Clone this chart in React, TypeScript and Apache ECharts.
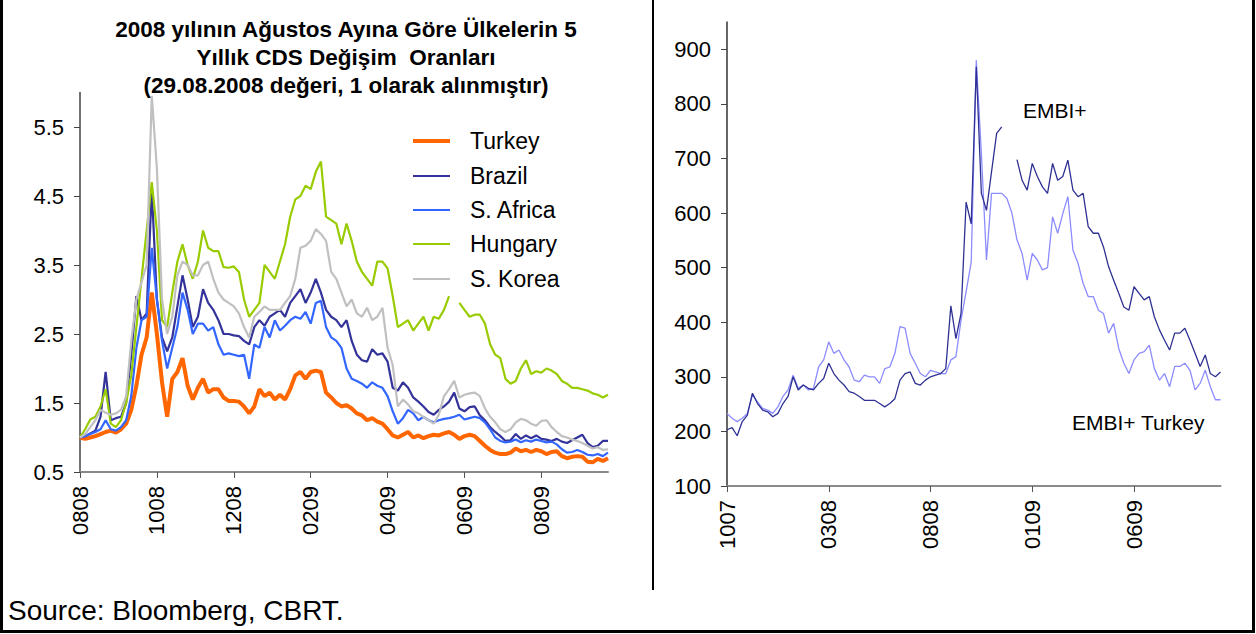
import { useEffect, useRef } from "react";
import * as echarts from "echarts";

// ---------- Left chart: 5-year CDS change ratios (29.08.2008 = 1) ----------
const LEFT_TICK_LABELS = ["0808", "1008", "1208", "0209", "0409", "0609", "0809"];
const LEFT_TICK_EVERY = 15;
const LEFT_Y_TICKS = [0.5, 1.5, 2.5, 3.5, 4.5, 5.5];
const SERIES_NAMES = ["Turkey", "Brazil", "S. Africa", "Hungary", "S. Korea"];

const TURKEY = [
  1.0, 0.98, 1.0, 1.02, 1.05, 1.08, 1.1, 1.07, 1.12, 1.2,
  1.4, 1.75, 2.2, 2.45, 3.1, 2.5, 1.8, 1.3, 1.85, 1.95,
  2.15, 1.75, 1.55, 1.72, 1.85, 1.65, 1.7, 1.7, 1.58, 1.53,
  1.53, 1.52, 1.45, 1.35, 1.45, 1.7, 1.6, 1.65, 1.55, 1.62,
  1.55, 1.7, 1.9, 1.95, 1.85, 1.95, 1.97, 1.95, 1.65, 1.58,
  1.5, 1.45, 1.47, 1.42, 1.35, 1.32, 1.25, 1.28, 1.23, 1.2,
  1.12, 1.03, 1.0, 1.04, 1.08, 1.0, 1.03, 0.99, 1.02, 1.04,
  1.03, 1.06, 1.08, 1.04, 0.98, 1.02, 1.04, 1.02, 0.95, 0.88,
  0.82, 0.78, 0.76, 0.76, 0.78, 0.84, 0.8, 0.82, 0.79, 0.82,
  0.8, 0.76, 0.79, 0.8, 0.73, 0.7, 0.72, 0.73, 0.72, 0.65,
  0.64, 0.69, 0.66, 0.7,
];
const BRAZIL = [
  1.0, 1.02, 1.06, 1.1, 1.3, 1.95, 1.25, 1.28, 1.3, 1.5,
  2.2, 3.05, 2.7, 2.8, 4.6, 3.0, 2.45, 2.25, 2.45, 2.9,
  3.35, 3.0, 2.6, 2.75, 3.15, 2.95, 2.85, 2.7, 2.5, 2.5,
  2.48, 2.47, 2.4, 2.35, 2.6, 2.7, 2.62, 2.75, 2.8, 2.85,
  2.75, 2.95, 3.05, 3.15, 2.95, 3.1, 3.3, 3.1, 2.85, 2.75,
  2.7, 2.6, 2.7, 2.4, 2.2, 2.12, 2.1, 2.28, 2.2, 2.22,
  2.1, 1.72, 1.68, 1.8, 1.72, 1.58, 1.52, 1.45, 1.37, 1.33,
  1.4, 1.45, 1.52, 1.65, 1.42, 1.38, 1.44, 1.45, 1.32, 1.25,
  1.15, 1.08, 1.02, 0.95, 0.96, 1.05, 0.98, 1.03, 0.99, 1.03,
  0.98, 0.97, 0.95, 0.98, 0.94, 0.92, 0.96, 1.0, 1.04, 0.92,
  0.86, 0.88, 0.95, 0.95,
];
const S_AFRICA = [
  1.0, 1.02, 1.05, 1.08, 1.12, 1.25, 1.12, 1.1, 1.15, 1.25,
  1.6, 2.3, 2.7, 2.75, 3.75, 3.0, 2.4, 2.0, 2.3, 2.6,
  3.1, 2.85, 2.5, 2.65, 2.65, 2.55, 2.6, 2.35, 2.2, 2.22,
  2.2, 2.18, 2.2, 1.85, 2.35, 2.3, 2.6, 2.45, 2.7, 2.55,
  2.62, 2.7, 2.75, 2.72, 2.82, 2.65, 2.95, 2.98, 2.6, 2.45,
  2.4, 2.3, 2.0, 1.85, 1.82, 1.78, 1.72, 1.8, 1.75, 1.72,
  1.6, 1.38, 1.2, 1.28, 1.4, 1.35, 1.25, 1.3, 1.25, 1.22,
  1.25, 1.27, 1.28, 1.3, 1.33, 1.26, 1.28, 1.3, 1.28, 1.22,
  1.12, 1.0, 0.95, 0.93, 0.94, 0.97, 0.93, 0.96, 0.94, 0.97,
  0.95, 0.93, 0.94, 0.9, 0.83, 0.78, 0.79, 0.82, 0.79, 0.75,
  0.74, 0.76, 0.73, 0.78,
];
const HUNGARY = [
  1.0, 1.12, 1.26, 1.3, 1.45, 1.7, 1.2, 1.15, 1.25, 1.5,
  1.9, 2.6, 3.3, 4.0, 4.7, 4.0, 2.7, 2.6, 3.1, 3.55,
  3.8, 3.5, 3.3, 3.55, 4.0, 3.75, 3.7, 3.7, 3.47, 3.46,
  3.48, 3.4, 3.0, 2.75, 2.85, 2.95, 3.5, 3.4, 3.3, 3.55,
  3.8, 4.2, 4.45, 4.5, 4.65, 4.6, 4.85, 5.0, 4.2, 4.15,
  4.1, 3.8, 4.1, 3.85, 3.55, 3.4, 3.3, 3.2, 3.55, 3.55,
  3.45, 3.05, 2.6, 2.65, 2.7, 2.55, 2.65, 2.75, 2.55, 2.75,
  2.72, 2.85, 3.05, null, 2.95, 2.85, 2.75, 2.78, 2.78, 2.65,
  2.35, 2.2, 2.15, 1.85, 1.78, 1.82, 2.0, 2.12, 1.92, 1.96,
  1.94, 2.0, 1.97, 1.92, 1.82, 1.78, 1.72, 1.72, 1.7, 1.68,
  1.64, 1.62, 1.58, 1.62,
];
const S_KOREA = [
  1.0, 1.05, 1.15, 1.25, 1.4, 1.36, 1.33, 1.35, 1.4, 1.6,
  2.4, 3.0, 3.25, 3.5, 5.95, 4.9, 3.0, 2.5, 2.75, 3.35,
  3.55, 3.5, 3.35, 3.35, 3.5, 3.55, 3.3, 3.1, 3.0, 2.95,
  2.9, 2.8, 2.6, 2.45, 2.75, 2.82, 2.9, 2.85, 2.85, 2.85,
  2.95, 3.05, 3.3, 3.75, 3.78, 3.85, 4.02, 3.95, 3.85, 3.4,
  3.3, 3.1, 2.9, 3.0, 2.8, 2.75, 2.88, 2.7, 2.75, 2.88,
  2.3, 2.05, 1.45, 1.55, 1.48, 1.38, 1.35, 1.3, 1.25, 1.2,
  1.33, 1.6, 1.7, 1.82, 1.58, 1.62, 1.64, 1.65, 1.6, 1.42,
  1.3, 1.22, 1.12, 1.08, 1.12, 1.22, 1.27, 1.25, 1.2, 1.17,
  1.24, 1.25, 1.15, 1.08, 1.02, 1.0, 0.97, 0.95, 0.92, 0.88,
  0.84, 0.86, 0.82, 0.83,
];

// ---------- Right chart: EMBI+ spreads ----------
const RIGHT_TICK_LABELS = ["1007", "0308", "0808", "0109", "0609"];
const RIGHT_TICK_EVERY = 20;
const RIGHT_Y_TICKS = [100, 200, 300, 400, 500, 600, 700, 800, 900];

const EMBI = [
  203, 207, 192, 218, 230, 270, 251, 239, 236, 227,
  233, 251, 264, 300, 276, 285, 279, 276, 288, 297,
  325, 306, 294, 285, 273, 270, 264, 257, 257, 257,
  251, 245, 251, 260, 294, 306, 309, 288, 285, 294,
  300, 303, 306, 315, 430, 370, 416, 620, 580, 868,
  636, 605, 676, 746, 758, null, null, 698, 660, 642,
  691, 667, 648, 636, 691, 660, 667, 697, 642, 630,
  636, 575, 563, 563, 538, 502, 477, 453, 428, 422,
  465, 453, 441, 447, 410, 386, 367, 349, 380, 380,
  389, 367, 343, 319, 340, 306, 300, 309,
];
const EMBI_TURKEY = [
  233, 224, 218, 224, 233, 267, 254, 242, 239, 233,
  245, 264, 276, 303, 279, 285, 276, 279, 318, 331,
  364, 343, 349, 331, 318, 294, 291, 303, 300, 300,
  288, 315, 318, 343, 392, 389, 343, 325, 306, 300,
  312, 309, 306, 306, 331, 337, 404, 456, 510, 880,
  709, 514, 636, 636, 636, 627, 600, 551, 526, 477,
  526, 514, 496, 500, 593, 563, 599, 630, 532, 508,
  471, 447, 447, 422, 416, 380, 398, 352, 325, 306,
  331, 343, 346, 358, 315, 294, 306, 282, 319, 319,
  325, 312, 276, 288, 312, 282, 258, 258,
];

const FONT = "'Liberation Sans', Arial, Helvetica, sans-serif";
const LEFT_COLORS = ["#FF6600", "#333399", "#3366FF", "#99CC00", "#C0C0C0"];
const LEFT_WIDTHS = [4, 2.2, 2.2, 2.2, 2.2];

function buildCategories(n: number, every: number, labels: string[]) {
  return Array.from({ length: n }, (_, i) =>
    i % every === 0 && labels[i / every] ? labels[i / every] : `p${i}`
  );
}

export default function App() {
  const ref = useRef<HTMLDivElement>(null);

  useEffect(() => {
    if (!ref.current) return;
    const chart = echarts.init(ref.current, undefined, { renderer: "svg" });

    const leftCats = buildCategories(TURKEY.length, LEFT_TICK_EVERY, LEFT_TICK_LABELS);
    const rightCats = buildCategories(EMBI.length, RIGHT_TICK_EVERY, RIGHT_TICK_LABELS);
    const leftData = [TURKEY, BRAZIL, S_AFRICA, HUNGARY, S_KOREA];

    const axisLabelBase = { color: "#000", fontFamily: FONT, fontSize: 22 };

    const legendY = [141, 176, 210, 244, 279];
    const legendEls: any[] = [];
    SERIES_NAMES.forEach((name, i) => {
      legendEls.push({
        type: "line",
        shape: { x1: 413, y1: legendY[i], x2: 450, y2: legendY[i] },
        style: { stroke: LEFT_COLORS[i], lineWidth: LEFT_WIDTHS[i] },
      });
      legendEls.push({
        type: "text",
        x: 470,
        y: legendY[i],
        style: {
          text: name,
          fill: "#000",
          fontFamily: FONT,
          fontSize: 23,
          align: "left",
          verticalAlign: "middle",
          textAlign: "left",
          textVerticalAlign: "middle",
        },
      });
    });

    const titleLines = [
      "2008 yılının Ağustos Ayına Göre Ülkelerin 5",
      "Yıllık CDS Değişim  Oranları",
      "(29.08.2008 değeri, 1 olarak alınmıştır)",
    ];
    const titleEls = titleLines.map((t, i) => ({
      type: "text",
      x: 346,
      y: 29 + i * 28,
      style: {
        text: t,
        fill: "#000",
        fontFamily: FONT,
        fontWeight: "bold",
        fontSize: 22.5,
        align: "center",
        verticalAlign: "middle",
        textAlign: "center",
        textVerticalAlign: "middle",
      },
    }));

    const plainText = (text: string, x: number, y: number, size: number) => ({
      type: "text",
      x,
      y,
      style: {
        text,
        fill: "#000",
        fontFamily: FONT,
        fontSize: size,
        align: "left",
        verticalAlign: "middle",
        textAlign: "left",
        textVerticalAlign: "middle",
      },
    });

    const option: any = {
      animation: false,
      backgroundColor: "#ffffff",
      textStyle: { fontFamily: FONT },
      grid: [
        { left: 80, top: 92.5, width: 528, height: 379.5 },
        { left: 727, top: 22, width: 493.5, height: 464 },
      ],
      xAxis: [
        {
          type: "category",
          gridIndex: 0,
          data: leftCats,
          boundaryGap: false,
          axisLine: { lineStyle: { color: "#8a8a8a", width: 2 } },
          axisTick: { interval: LEFT_TICK_EVERY - 1, length: 6, lineStyle: { color: "#555" } },
          axisLabel: { ...axisLabelBase, interval: LEFT_TICK_EVERY - 1, rotate: 90, margin: 14 },
          splitLine: { show: false },
        },
        {
          type: "category",
          gridIndex: 1,
          data: rightCats,
          boundaryGap: false,
          axisLine: { lineStyle: { color: "#8a8a8a", width: 2 } },
          axisTick: { interval: RIGHT_TICK_EVERY - 1, length: 6, lineStyle: { color: "#555" } },
          axisLabel: { ...axisLabelBase, interval: RIGHT_TICK_EVERY - 1, rotate: 90, margin: 14 },
          splitLine: { show: false },
        },
      ],
      yAxis: [
        {
          type: "value",
          gridIndex: 0,
          min: 0.5,
          max: 6,
          axisLine: { show: true, lineStyle: { color: "#444", width: 1.5 } },
          axisTick: { show: true, length: 6, customValues: LEFT_Y_TICKS, lineStyle: { color: "#444" } },
          axisLabel: {
            ...axisLabelBase,
            margin: 16,
            customValues: LEFT_Y_TICKS,
            formatter: (v: number) => v.toFixed(1),
          },
          splitLine: { show: false },
        },
        {
          type: "value",
          gridIndex: 1,
          min: 100,
          max: 950,
          axisLine: { show: true, lineStyle: { color: "#333", width: 1.5 } },
          axisTick: { show: true, length: 6, customValues: RIGHT_Y_TICKS, lineStyle: { color: "#444" } },
          axisLabel: { ...axisLabelBase, margin: 16, customValues: RIGHT_Y_TICKS },
          splitLine: { show: false },
        },
      ],
      series: [
        ...leftData.map((d, i) => ({
          name: SERIES_NAMES[i],
          type: "line",
          xAxisIndex: 0,
          yAxisIndex: 0,
          data: d,
          symbol: "none",
          showSymbol: false,
          connectNulls: false,
          lineStyle: { color: LEFT_COLORS[i], width: LEFT_WIDTHS[i] },
          itemStyle: { color: LEFT_COLORS[i] },
          z: 2 + i,
        })),
        {
          name: "EMBI+ Turkey",
          type: "line",
          xAxisIndex: 1,
          yAxisIndex: 1,
          data: EMBI_TURKEY,
          symbol: "none",
          showSymbol: false,
          connectNulls: false,
          lineStyle: { color: "#8C8CFF", width: 1.3 },
          itemStyle: { color: "#8C8CFF" },
          z: 2,
        },
        {
          name: "EMBI+",
          type: "line",
          xAxisIndex: 1,
          yAxisIndex: 1,
          data: EMBI,
          symbol: "none",
          showSymbol: false,
          connectNulls: false,
          lineStyle: { color: "#2E3192", width: 1.3 },
          itemStyle: { color: "#2E3192" },
          z: 3,
        },
      ],
      graphic: {
        elements: [
          ...titleEls,
          ...legendEls,
          plainText("EMBI+", 1023, 110, 21),
          plainText("EMBI+ Turkey", 1072, 422, 21),
          plainText("Source: Bloomberg, CBRT.", 8, 610, 28),
          {
            type: "line",
            shape: { x1: 653, y1: 0, x2: 653, y2: 590 },
            style: { stroke: "#000", lineWidth: 2 },
          },
          {
            type: "rect",
            shape: { x: 1.5, y: -10, width: 1252, height: 641.5 },
            style: { fill: "none", stroke: "#000", lineWidth: 3 },
          },
        ],
      },
    };

    chart.setOption(option);
    return () => chart.dispose();
  }, []);

  return (
    <div
      ref={ref}
      style={{ position: "absolute", left: 0, top: 0, width: 1256, height: 634, background: "#fff" }}
    />
  );
}
